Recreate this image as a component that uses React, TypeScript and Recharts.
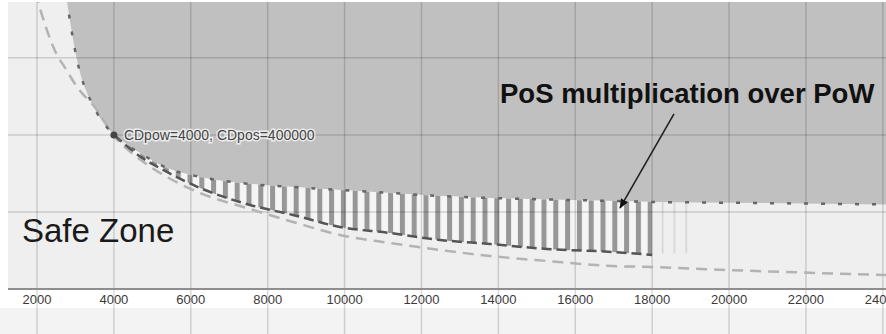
import React from 'react';
import { ComposedChart, Area, Line, XAxis, YAxis, CartesianGrid, ReferenceLine, ReferenceDot } from 'recharts';

// CDpow on the x axis, CDpos on the y axis
const cdPow = [1950, 2550, 2700, 3040, 3520, 4000, 4700, 5380, 6240, 7540, 8660, 9880, 11180, 12480, 13780, 15260, 16980, 18000, 19250, 24100];
const posBoundary = [null, null, 800000, 595000, 465000, 400000, 352000, 314000, 291000, 272700, 264900, 257100, 249300, 241500, 236300, 232500, 228600, 226000, 224700, 219500];
const posMultiplied = [null, null, null, null, null, 400000, 343000, 303900, 262300, 218200, 192200, 161000, 145400, 127300, 116900, 103900, 96100, 88300, null, null];
const powBaseline = [770000, 602000, 579000, 524700, 470000, 398000, 335000, 290900, 249300, 207800, 174000, 140300, 119500, 101300, 85700, 72700, 59700, 57100, 51900, 36400];

// faded tail of the hatched band past 18000
const fadeCdPow = [18000, 19100];
const fadeLow = [93000, 93000];
const fadeHigh = [226000, 224800];

const xTicks = [2000, 4000, 6000, 8000, 10000, 12000, 14000, 16000, 18000, 20000, 22000, 24000];
const yTicks = [200000, 400000, 600000];
const ceiling = 900000;

const rows = cdPow.map((x, i) => ({
  x,
  boundary: posBoundary[i],
  dark: posBoundary[i] != null ? [posBoundary[i], ceiling] : null,
  hatch: posMultiplied[i] != null ? [posMultiplied[i], posBoundary[i]] : null,
  mult: posMultiplied[i],
  pow: powBaseline[i],
}));

const fadeRows = fadeCdPow.map((x, i) => ({ x, hatch: [fadeLow[i], fadeHigh[i]] }));

const font = '"Liberation Sans", Arial, sans-serif';
const gridStroke = 'rgba(0,0,0,0.15)';

const XTick = (props: any) => {
  const { x, y, payload } = props;
  return (
    <g>
      <line x1={x} x2={x} y1={y + 1} y2={y + 60} stroke={gridStroke} strokeWidth={1.5} />
      <text x={x} y={y + 15} textAnchor="middle" fontSize={13} fill="#3a3a3a" fontFamily={font}>
        {payload.value}
      </text>
    </g>
  );
};

export default function App() {
  return (
    <div
      style={{
        position: 'fixed',
        left: 0,
        top: 0,
        width: 886,
        height: 334,
        background: 'linear-gradient(to bottom, #fff 0px, #fff 308px, #f3f3f3 308px)',
      }}
    >
      <ComposedChart width={886} height={334} data={rows} margin={{ top: 2, right: 0, left: 8, bottom: 0 }}>
        <defs>
          <pattern id="hatch" patternUnits="userSpaceOnUse" x={10.5} y={0} width={11.8} height={10}>
            <rect width={11.8} height={10} fill="#f5f5f5" />
            <rect x={0} width={5} height={10} fill="#979797" />
          </pattern>
          <pattern id="hatchFade" patternUnits="userSpaceOnUse" x={1} y={0} width={11.8} height={10}>
            <rect x={0} width={1.5} height={10} fill="#d2d2d2" />
          </pattern>
          <marker id="arrow" markerWidth={10} markerHeight={10} refX={9} refY={5} orient="auto" markerUnits="userSpaceOnUse">
            <path d="M0,1 L10,5 L0,9 z" fill="#111" />
          </marker>
        </defs>
        <CartesianGrid horizontal={false} vertical={false} fill="#efefef" stroke="none" />
        <XAxis
          type="number"
          dataKey="x"
          domain={[1246, 24082]}
          allowDataOverflow
          ticks={xTicks}
          interval={0}
          height={45}
          tickSize={0}
          tickMargin={0}
          tickLine={false}
          axisLine={{ stroke: '#8e8e8e', strokeWidth: 2 }}
          tick={<XTick />}
        />
        <YAxis hide type="number" domain={[0, 745000]} allowDataOverflow />

        <Area type="monotone" dataKey="dark" fill="#c0c0c0" fillOpacity={1} stroke="none" isAnimationActive={false} />
        <Area type="monotone" dataKey="hatch" fill="url(#hatch)" fillOpacity={1} stroke="none" isAnimationActive={false} />
        <Area data={fadeRows} type="linear" dataKey="hatch" fill="url(#hatchFade)" fillOpacity={1} stroke="none" isAnimationActive={false} />

        {xTicks.map((t) => (
          <ReferenceLine key={'vx' + t} x={t} stroke={gridStroke} strokeWidth={1.5} />
        ))}
        {yTicks.map((t) => (
          <ReferenceLine key={'hy' + t} y={t} stroke={gridStroke} strokeWidth={1.5} />
        ))}

        <Line type="monotone" dataKey="pow" stroke="#b3b3b3" strokeWidth={2.5} strokeDasharray="11 7" dot={false} isAnimationActive={false} />
        <Line type="monotone" dataKey="mult" stroke="#555" strokeWidth={2.5} strokeDasharray="10 5" dot={false} isAnimationActive={false} />
        <Line type="monotone" dataKey="boundary" stroke="#666" strokeWidth={2.5} strokeDasharray="4 13" dot={false} isAnimationActive={false} />

        <ReferenceDot
          x={4000}
          y={400000}
          r={3}
          shape={(p: any) => (
            <g>
              <circle cx={p.cx} cy={p.cy} r={3.5} fill="#444" />
              <text
                x={p.cx + 10}
                y={p.cy + 5}
                fontSize={14}
                fill="#444"
                fontFamily={font}
                stroke="#fff"
                strokeWidth={3}
                strokeOpacity={0.7}
                paintOrder="stroke"
              >
                CDpow=4000, CDpos=400000
              </text>
            </g>
          )}
        />
        <ReferenceDot
          x={1610}
          y={122000}
          r={0}
          shape={(p: any) => (
            <text x={p.cx} y={p.cy} fontSize={33} fill="#1a1a1a" fontFamily={font}>
              Safe Zone
            </text>
          )}
        />
        <ReferenceDot
          x={14043}
          y={483000}
          r={0}
          shape={(p: any) => (
            <text x={p.cx} y={p.cy} fontSize={27.5} fontWeight="bold" fill="#111" fontFamily={font}>
              PoS multiplication over PoW
            </text>
          )}
        />
        <ReferenceLine
          segment={[{ x: 18568, y: 454500 }, { x: 17164, y: 210400 }]}
          shape={(p: any) => (
            <line x1={p.x1} y1={p.y1} x2={p.x2} y2={p.y2} stroke="#222" strokeWidth={1.6} markerEnd="url(#arrow)" />
          )}
        />
      </ComposedChart>
    </div>
  );
}
